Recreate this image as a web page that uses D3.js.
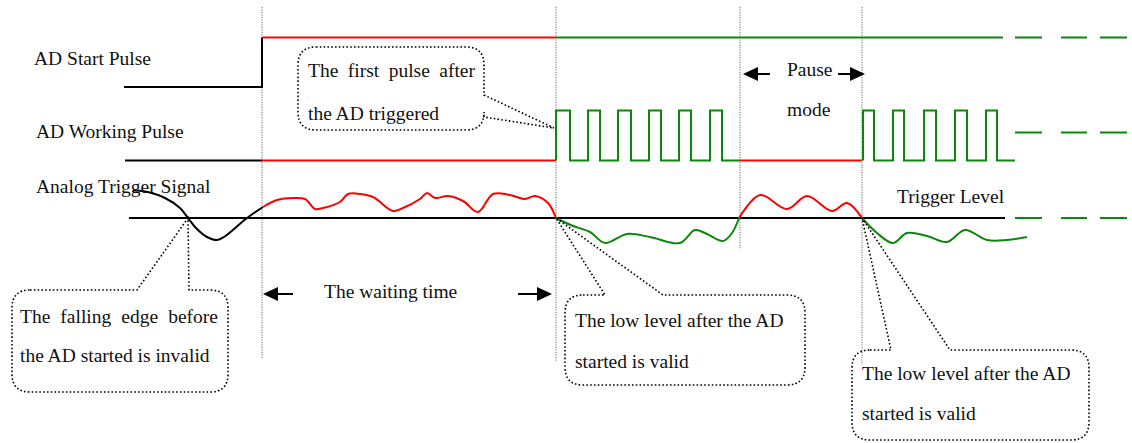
<!DOCTYPE html>
<html><head><meta charset="utf-8">
<script src="https://cdn.jsdelivr.net/npm/d3@7"></script>
</head><body style="margin:0;background:#fff">
<svg id="c" width="1132" height="443" style="display:block"></svg>
<script>
// ---------------- DATA (time units / signal levels) ----------------
const signalNames = ["AD Start Pulse", "AD Working Pulse", "Analog Trigger Signal"];
const triggerLevelLabel = "Trigger Level";
const markerTimes = [262, 556, 740, 862];          // guide lines
const markerEnds  = [358, 362, 249, 365];
// AD start pulse: [time, level]
const startBlack = [[124,0],[262,0],[262,1]];
const startRed   = [[262,1],[556,1]];
const startGreen = [[556,1],[1003,1]];
// AD working pulse
const workBlack = [[125,0],[262,0]];
const workRed1  = [[262,0],[556,0]];
const burst1 = [[556,570],[588,600],[618,631],[649,661],[679,691],[710,722]];
const burst1End = 740;
const workRed2  = [[740,0],[862,0]];
const burst2 = [[863,874],[893,904],[924,936],[955,967],[986,997]];
const burst2End = 1015;
// analog trigger signal (level relative to trigger level)
const analogBlack = [[133,2.8],[148,2.6],[165,2.0],[180,1.0],[188,0],[196,-1.0],[207,-1.9],[217,-2.2],[224,-1.9],[247,0],[263,1.1]];
const analogRed1 = [[263,1.1],[277,1.8],[293,2.0],[305,1.9],[315,0.9],[323,1.0],[340,1.6],[348,2.4],[360,2.4],[373,2.1],[393,0.7],[403,1.0],[420,1.9],[427,2.5],[435,2.0],[448,2.2],[463,1.7],[478,0.6],[493,2.4],[510,2.3],[525,1.9],[535,2.2],[548,1.5],[556,0]];
const analogGreen1 = [[556,0],[573,-0.8],[590,-1.4],[605,-2.5],[627,-1.6],[650,-1.9],[680,-2.5],[695,-1.2],[707,-1.6],[723,-2.3],[732,-1.5],[739,0]];
const analogRed2 = [[739,0],[760,2.3],[787,0.9],[807,2.2],[832,0.7],[847,1.5],[862,0]];
const analogGreen2 = [[862,0],[877,-1.5],[893,-2.5],[907,-1.5],[927,-1.8],[947,-2.4],[965,-1.2],[987,-2.2],[1007,-2.2],[1027,-1.9]];
const triggerLine = [129, 1005];
const continuationDashes = [[1015,1042],[1061,1087],[1100,1127]];
const dashLevelWork = 0.56;
// annotations
const waitingLabel = "The waiting time";
const pauseLabel = ["Pause", "mode"];
const calloutTexts = [
  ["The first pulse after", "the AD triggered"],
  ["The falling edge before", "the AD started is invalid"],
  ["The low level after the AD", "started is valid"],
  ["The low level after the AD", "started is valid"]
];

// ---------------- SCALES ----------------
const x = d3.scaleLinear().domain([0,1132]).range([0,1132]);
const yStart = d3.scaleLinear().domain([0,1]).range([87,37.5]);
const yWork  = d3.scaleLinear().domain([0,1]).range([160.5,110.5]);
const yAna   = d3.scaleLinear().domain([-3,3]).range([248,188]);

const RED="#ff0000", GREEN="#0b870b", BLACK="#000";
const svg = d3.select("#c");

// guide lines
svg.append("g").selectAll("line").data(markerTimes).join("line")
  .attr("x1",d=>x(d)).attr("x2",d=>x(d)).attr("y1",7).attr("y2",(d,i)=>markerEnds[i])
  .attr("stroke","#555").attr("stroke-width",0.9).attr("stroke-dasharray","1.2,1.3");

const lineXY = (ys, curve) => d3.line().x(d=>x(d[0])).y(d=>ys(d[1])).curve(curve||d3.curveLinear);
function draw(data, ys, color, curve, w){
  svg.append("path").attr("d", lineXY(ys,curve)(data)).attr("fill","none")
    .attr("stroke",color).attr("stroke-width",w||2).attr("stroke-linejoin","miter");
}
function pulses(burst, endT){
  const pts=[[burst[0][0],0]];
  burst.forEach((p,i)=>{ pts.push([p[0],1],[p[1],1],[p[1],0]);
    const next = i<burst.length-1 ? burst[i+1][0] : endT; pts.push([next,0]); });
  return pts;
}

// AD start pulse
draw(startBlack, yStart, BLACK);
draw(startRed, yStart, RED);
draw(startGreen, yStart, GREEN);
// AD working pulse
draw(workBlack, yWork, BLACK);
draw(workRed1, yWork, RED);
draw(pulses(burst1, burst1End), yWork, GREEN);
draw(workRed2, yWork, RED);
draw(pulses(burst2, burst2End), yWork, GREEN);
// trigger level
draw([[triggerLine[0],0],[triggerLine[1],0]], yAna, BLACK);
// analog
const cr = d3.curveCatmullRom.alpha(0.5);
draw(analogBlack, yAna, BLACK, cr);
draw(analogRed1, yAna, RED, cr);
draw(analogGreen1, yAna, GREEN, cr);
draw(analogRed2, yAna, RED, cr);
draw(analogGreen2, yAna, GREEN, cr);
// continuation dashes
[[yStart,1],[yWork,dashLevelWork],[yAna,0]].forEach(([ys,lv])=>{
  continuationDashes.forEach(d=>draw([[d[0],lv],[d[1],lv]], ys, GREEN));
});

// labels
function txt(xx,yy,t){ return svg.append("text").attr("x",xx).attr("y",yy)
  .attr("font-family",'"Liberation Serif"').attr("font-size",19.5).attr("fill","#111").text(t); }
const labelPos = [[34,65],[36,138],[36,193]];
signalNames.forEach((t,i)=>txt(labelPos[i][0],labelPos[i][1],t));
txt(897,203,triggerLevelLabel);
txt(324,298,waitingLabel);
txt(787,76,pauseLabel[0]);
txt(787,116,pauseLabel[1]);

// arrows
function arrow(tip, tail, yy){
  const dir = Math.sign(tail - tip), L=15, H=7;
  svg.append("line").attr("x1",x(tip)+dir*L-dir*1).attr("x2",x(tail)).attr("y1",yy).attr("y2",yy)
    .attr("stroke",BLACK).attr("stroke-width",2);
  svg.append("path").attr("d",`M${x(tip)},${yy}L${x(tip)+dir*L},${yy-H}L${x(tip)+dir*L},${yy+H}Z`).attr("fill",BLACK);
}
arrow(263, 293, 294); arrow(552, 518, 294);
arrow(743, 770, 74); arrow(865, 838, 74);

// callouts
function calloutPath(b, r, p){
  const [x0,y0,x1,y1]=b;
  let d=`M${x0+r},${y0}`;
  if(p.side==="top") d+=`H${p.a}L${p.tip[0]},${p.tip[1]}L${p.b},${y0}`;
  d+=`H${x1-r}Q${x1},${y0} ${x1},${y0+r}`;
  if(p.side==="right") d+=`V${p.a}L${p.tip[0]},${p.tip[1]}L${x1},${p.b}`;
  d+=`V${y1-r}Q${x1},${y1} ${x1-r},${y1}H${x0+r}Q${x0},${y1} ${x0},${y1-r}V${y0+r}Q${x0},${y0} ${x0+r},${y0}Z`;
  return d;
}
const callouts = [
  {box:[298,47,484,130], p:{side:"right",a:95,b:117,tip:[x(554),yWork(0.65)]}, tx:308, ty:[77,120], just:[475,null]},
  {box:[12,290,228,392], p:{side:"top",a:137,b:189,tip:[x(188),yAna(0)]}, tx:20, ty:[323,362], just:[218,null]},
  {box:[565,295,805,385], p:{side:"top",a:605,b:663,tip:[x(556),yAna(0)]}, tx:575, ty:[327,368], just:[null,null]},
  {box:[852,350,1089,440], p:{side:"top",a:891,b:950,tip:[x(862),yAna(0)]}, tx:862, ty:[380,420], just:[null,null]}
];
callouts.forEach((c,i)=>{
  svg.append("path").attr("d",calloutPath(c.box,18,c.p)).attr("fill","none")
    .attr("stroke",BLACK).attr("stroke-width",1.6).attr("stroke-dasharray","1.6,2.2");
  calloutTexts[i].forEach((t,j)=>{
    const el = txt(c.tx,c.ty[j],t);
    if(c.just[j]){
      const w = el.node().getComputedTextLength();
      const n = (t.match(/ /g)||[]).length;
      el.attr("word-spacing", ((c.just[j]-c.tx-w)/n));
    }
  });
});
</script>
</body></html>
